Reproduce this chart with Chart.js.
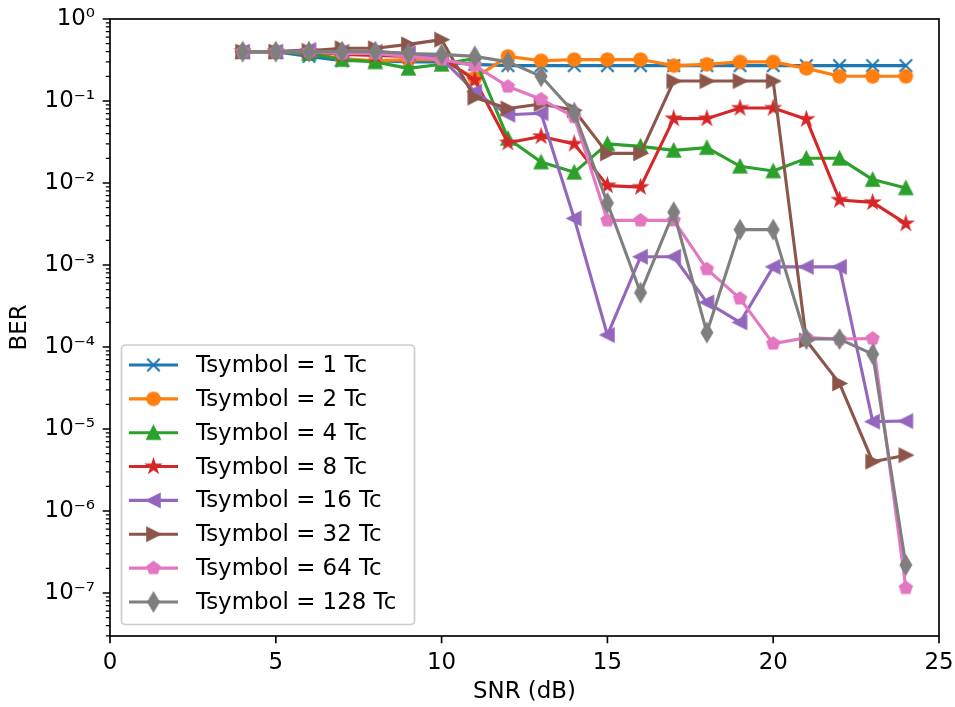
<!DOCTYPE html>
<html>
<head>
<meta charset="utf-8">
<script src="https://cdn.jsdelivr.net/npm/chart.js@4.4.1/dist/chart.umd.min.js"></script>
<style>html,body{margin:0;padding:0;background:#fff;}canvas{display:block;}</style>
</head>
<body>
<canvas id="c" width="955" height="707"></canvas>
<script>
// SNR sweep (dB)
const snr = [4,5,6,7,8,9,10,11,12,13,14,15,16,17,18,19,20,21,22,23,24];

// Bit error rate for each symbol duration
const ber1   = [0.40,0.40,0.35,0.31,0.31,0.30,0.30,0.28,0.27,0.27,0.27,0.27,0.27,0.27,0.27,0.27,0.27,0.27,0.27,0.27,0.27];
const ber2   = [0.40,0.40,0.38,0.33,0.31,0.32,0.32,0.19,0.35,0.31,0.32,0.32,0.32,0.27,0.28,0.30,0.30,0.25,0.20,0.20,0.20];
const ber4   = [0.40,0.40,0.38,0.32,0.30,0.25,0.28,0.33,0.035,0.018,0.0135,0.030,0.028,0.025,0.027,0.016,0.014,0.020,0.020,0.011,0.0087];
const ber8   = [0.40,0.40,0.40,0.37,0.36,0.35,0.34,0.18,0.031,0.037,0.030,0.0093,0.0089,0.061,0.061,0.082,0.082,0.060,0.0062,0.0058,0.0032];
const ber16  = [0.40,0.40,0.42,0.40,0.40,0.38,0.33,0.13,0.068,0.071,0.0037,0.00014,0.00126,0.00126,0.00035,0.00020,0.00095,0.00095,0.00095,0.0000123,0.0000125];
const ber32  = [0.40,0.40,0.41,0.44,0.44,0.49,0.56,0.11,0.081,0.092,0.077,0.023,0.023,0.175,0.175,0.175,0.175,0.00012,0.000036,0.0000040,0.0000048];
const ber64  = [0.40,0.40,0.40,0.38,0.38,0.35,0.32,0.27,0.15,0.105,0.064,0.0035,0.0035,0.0035,0.00089,0.00039,0.00011,0.00013,0.000125,0.000127,0.000000115];
const ber128 = [0.40,0.40,0.40,0.40,0.40,0.38,0.37,0.35,0.30,0.20,0.072,0.0057,0.00046,0.0044,0.00015,0.0027,0.0027,0.000125,0.000125,0.000082,0.00000022];

const seriesNames = ['Tsymbol = 1 Tc','Tsymbol = 2 Tc','Tsymbol = 4 Tc','Tsymbol = 8 Tc',
                     'Tsymbol = 16 Tc','Tsymbol = 32 Tc','Tsymbol = 64 Tc','Tsymbol = 128 Tc'];
const seriesValues = [ber1, ber2, ber4, ber8, ber16, ber32, ber64, ber128];

// Axis ticks
const xTickValues = [0,5,10,15,20,25];
const yMajorExponents = [0,-1,-2,-3,-4,-5,-6,-7];

// Styling
const colors = ['#1f77b4','#ff7f0e','#2ca02c','#d62728','#9467bd','#8c564b','#e377c2','#7f7f7f'];
const markerKinds = ['x','o','^','*','<','>','p','d'];
const FONT = 'DejaVu Sans';
const FS = 22.9;
const MS = 12.5;          // marker size (px)
const EDGE = 2.1;         // marker edge width (px)

function markerCanvas(kind, color) {
  const r = MS / 2;
  const ext = kind === 'd' ? MS * 0.7071 : r;
  const size = Math.ceil(2 * ext + EDGE + 4);
  const cv = document.createElement('canvas');
  cv.width = size; cv.height = size;
  const g = cv.getContext('2d');
  g.translate(size / 2, size / 2);
  g.fillStyle = color; g.strokeStyle = color; g.lineWidth = EDGE;
  g.lineJoin = 'miter';
  g.beginPath();
  let pts = null;
  if (kind === 'x') {
    g.moveTo(-r, -r); g.lineTo(r, r);
    g.moveTo(-r, r); g.lineTo(r, -r);
    g.stroke();
    return cv;
  }
  if (kind === 'o') {
    g.arc(0, 0, r, 0, Math.PI * 2);
    g.fill(); g.stroke();
    return cv;
  }
  if (kind === '^') pts = [[0,-r],[-r,r],[r,r]];
  if (kind === '<') pts = [[-r,0],[r,-r],[r,r]];
  if (kind === '>') pts = [[r,0],[-r,-r],[-r,r]];
  if (kind === 'd') { const h = MS * 0.7071, w = h * 0.6; pts = [[0,-h],[w,0],[0,h],[-w,0]]; }
  if (kind === 'p') {
    pts = [];
    for (let i = 0; i < 5; i++) { const a = -Math.PI/2 + i * 2*Math.PI/5; pts.push([r*Math.cos(a), r*Math.sin(a)]); }
  }
  if (kind === '*') {
    pts = [];
    const ri = r * 0.381966;
    for (let i = 0; i < 10; i++) {
      const a = -Math.PI/2 + i * Math.PI/5;
      const rr = i % 2 === 0 ? r : ri;
      pts.push([rr*Math.cos(a), rr*Math.sin(a)]);
    }
  }
  pts.forEach((p, i) => i ? g.lineTo(p[0], p[1]) : g.moveTo(p[0], p[1]));
  g.closePath();
  g.fill(); g.stroke();
  return cv;
}

const markers = colors.map((c, i) => markerCanvas(markerKinds[i], c));

const datasets = seriesValues.map((vals, i) => ({
  label: seriesNames[i],
  data: snr.map((s, j) => ({x: s, y: vals[j]})),
  borderColor: colors[i],
  backgroundColor: colors[i],
  borderWidth: 3.1,
  borderJoinStyle: 'round',
  pointStyle: markers[i],
  pointRadius: 6,
  pointHoverRadius: 6,
  tension: 0,
  order: seriesValues.length - 1 - i
}));

const SUP = {'0':'⁰','1':'¹','2':'²','3':'³','4':'⁴','5':'⁵','6':'⁶','7':'⁷','8':'⁸','9':'⁹','-':'⁻'};
const supText = n => String(n).split('').map(ch => SUP[ch]).join('');
const isMajor = v => yMajorExponents.some(e => Math.abs(Math.log10(v) - e) < 1e-9);

// Frame, tick marks and the legend box drawn over the plot
const decorations = {
  id: 'decorations',
  afterDraw(chart) {
    const {ctx, chartArea: a, scales: {x, y}} = chart;
    ctx.save();
    ctx.strokeStyle = '#000';
    ctx.lineCap = 'butt';
    ctx.lineWidth = 1.67;
    ctx.beginPath();
    x.ticks.forEach(t => {
      const px = x.getPixelForValue(t.value);
      ctx.moveTo(px, a.bottom); ctx.lineTo(px, a.bottom + 7.3);
    });
    y.ticks.filter(t => isMajor(t.value)).forEach(t => {
      const py = y.getPixelForValue(t.value);
      ctx.moveTo(a.left, py); ctx.lineTo(a.left - 7.3, py);
    });
    ctx.stroke();
    ctx.lineWidth = 1.25;
    ctx.beginPath();
    y.ticks.filter(t => !isMajor(t.value)).forEach(t => {
      const py = y.getPixelForValue(t.value);
      ctx.moveTo(a.left, py); ctx.lineTo(a.left - 4.2, py);
    });
    ctx.stroke();
    ctx.lineWidth = 1.67;
    ctx.strokeRect(a.left, a.top, a.right - a.left, a.bottom - a.top);

    // legend
    const bx = a.left + 11.5, bw = 293, bh = 279.5, by = a.bottom - 11.5 - bh, rad = 4;
    ctx.beginPath();
    ctx.moveTo(bx + rad, by);
    ctx.arcTo(bx + bw, by, bx + bw, by + bh, rad);
    ctx.arcTo(bx + bw, by + bh, bx, by + bh, rad);
    ctx.arcTo(bx, by + bh, bx, by, rad);
    ctx.arcTo(bx, by, bx + bw, by, rad);
    ctx.closePath();
    ctx.fillStyle = 'rgba(255,255,255,0.8)';
    ctx.fill();
    ctx.strokeStyle = '#cccccc';
    ctx.lineWidth = 1.67;
    ctx.stroke();

    ctx.font = FS + 'px "' + FONT + '"';
    ctx.textBaseline = 'middle';
    ctx.textAlign = 'left';
    chart.data.datasets.forEach((ds, i) => {
      const cy = by + 20 + i * 33.85;
      ctx.strokeStyle = ds.borderColor;
      ctx.lineWidth = 3.1;
      ctx.beginPath();
      ctx.moveTo(bx + 7.5, cy); ctx.lineTo(bx + 56.5, cy);
      ctx.stroke();
      const m = ds.pointStyle;
      ctx.drawImage(m, bx + 32 - m.width / 2, cy - m.height / 2);
      ctx.fillStyle = '#000';
      ctx.fillText(ds.label, bx + 74.5, cy + 1);
    });
    ctx.restore();
  }
};

Chart.defaults.font.family = FONT;
Chart.defaults.font.size = FS;
Chart.defaults.color = '#000';

new Chart(document.getElementById('c'), {
  type: 'line',
  data: {datasets},
  options: {
    responsive: false,
    animation: false,
    devicePixelRatio: 1,
    events: [],
    layout: {padding: {top: 19, right: 16, bottom: 0, left: 0}},
    plugins: {legend: {display: false}, tooltip: {enabled: false}},
    scales: {
      x: {
        type: 'linear',
        min: 0, max: 25,
        afterBuildTicks: s => { s.ticks = xTickValues.map(v => ({value: v})); },
        afterFit: s => { s.height = 71; s.paddingLeft = 0; s.paddingRight = 0; },
        grid: {display: false, drawTicks: false},
        border: {display: false},
        ticks: {padding: 13, maxRotation: 0, autoSkip: false, callback: v => String(v)},
        title: {display: true, text: 'SNR (dB)', padding: {top: 0, bottom: 1}}
      },
      y: {
        type: 'logarithmic',
        min: Math.pow(10, -7.524), max: 1,
        afterBuildTicks: s => {
          const t = [];
          for (let k = -8; k <= 0; k++) {
            for (let m = 1; m <= 9; m++) {
              const v = m * Math.pow(10, k);
              if (v >= s.min * 0.999999 && v <= s.max * 1.000001) t.push({value: v});
            }
          }
          s.ticks = t;
        },
        afterFit: s => { s.width = 110; s.paddingTop = 0; s.paddingBottom = 0; },
        grid: {display: false, drawTicks: false},
        border: {display: false},
        ticks: {
          padding: 15, autoSkip: false,
          callback: v => isMajor(v) ? '10' + supText(Math.round(Math.log10(v))) : ''
        },
        title: {display: true, text: 'BER', padding: {top: 6.5, bottom: 0}}
      }
    }
  },
  plugins: [decorations]
});
</script>
</body>
</html>
